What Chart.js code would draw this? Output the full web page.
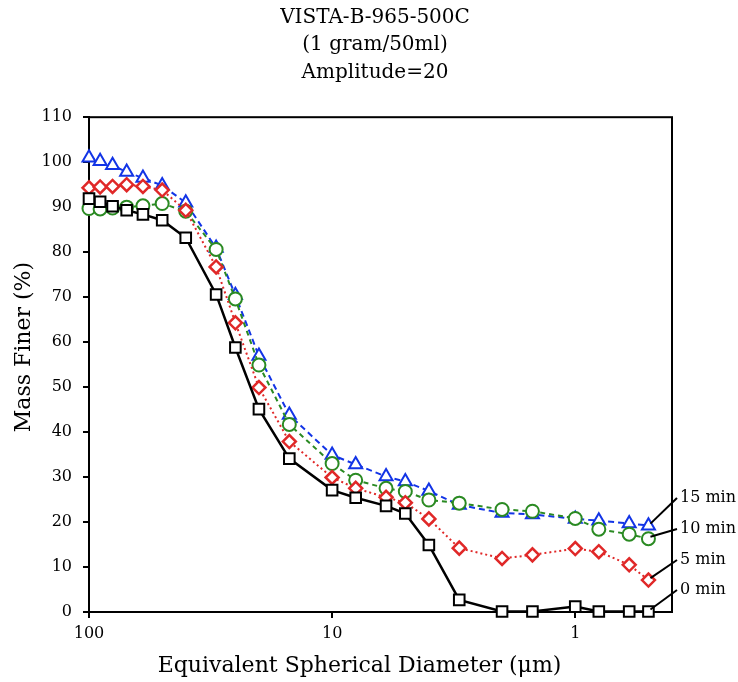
<!DOCTYPE html>
<html>
<head>
<meta charset="utf-8">
<script src="https://cdn.jsdelivr.net/npm/chart.js@4"></script>
<style>
  html, body { margin: 0; padding: 0; background: #fff; }
  canvas { display: block; }
</style>
</head>
<body>
<canvas id="myChart" width="738" height="682"></canvas>
<script>
// diameters (um) shared by all runs
const diameters = [100, 90, 80, 70, 60, 50, 40, 30, 25, 20, 15, 10, 8, 6, 5, 4, 3, 2, 1.5, 1, 0.8, 0.6, 0.5];

// mass finer (%) for each sonication time
const min0  = [91.9, 91.2, 90.2, 89.3, 88.4, 87.1, 83.2, 70.6, 58.8, 45.1, 34.1, 27.1, 25.4, 23.6, 21.9, 14.9, 2.7, 0.1, 0.1, 1.2, 0.1, 0.1, 0.1];
const min5  = [94.3, 94.5, 94.6, 95.0, 94.6, 93.8, 89.3, 76.7, 64.3, 49.9, 37.9, 29.9, 27.5, 25.5, 24.3, 20.7, 14.2, 11.9, 12.7, 14.1, 13.4, 10.5, 7.1];
const min10 = [89.7, 89.6, 89.8, 90.0, 90.3, 90.8, 89.1, 80.6, 69.6, 54.9, 41.7, 33.0, 29.3, 27.5, 26.8, 24.9, 24.2, 22.8, 22.4, 20.8, 18.4, 17.3, 16.3];
const min15 = [101.0, 100.2, 99.3, 97.8, 96.5, 94.8, 91.0, 80.9, 70.4, 56.9, 43.8, 34.9, 32.8, 30.1, 29.0, 26.9, 23.8, 22.0, 21.7, 20.7, 20.3, 19.7, 19.2];

const seriesLabels = ['0 min', '5 min', '10 min', '15 min'];
const xTickValues = [100, 10, 1];
const titleLines = ['VISTA-B-965-500C', '(1 gram/50ml)', 'Amplitude=20'];

const FONT = "'DejaVu Serif', 'Liberation Serif', serif";
const NBSP = '\u00a0';

const toPoints = (ys) => diameters.map((d, i) => ({ x: d, y: ys[i] }));

// box around the plot area
const frame = {
  id: 'frame',
  beforeDatasetsDraw(chart) {
    const { ctx, chartArea: a } = chart;
    ctx.save();
    ctx.strokeStyle = '#000';
    ctx.lineWidth = 2;
    ctx.strokeRect(a.left, a.top, a.right - a.left, a.bottom - a.top);
    ctx.restore();
  }
};

// labels at the right end of each curve, with a leader line
const endLabels = {
  id: 'endLabels',
  afterDraw(chart, args, opts) {
    const { ctx } = chart;
    ctx.save();
    ctx.font = '16px ' + FONT;
    ctx.fillStyle = '#000';
    ctx.strokeStyle = '#000';
    ctx.lineWidth = 2;
    ctx.textBaseline = 'middle';
    chart.data.datasets.forEach((ds, i) => {
      const last = ds.data[ds.data.length - 1];
      const px = chart.scales.x.getPixelForValue(last.x);
      const py = chart.scales.y.getPixelForValue(last.y);
      const ty = opts.y[i];
      ctx.beginPath();
      ctx.moveTo(px + 2, py - 2);
      ctx.lineTo(opts.x - 3, ty);
      ctx.stroke();
      ctx.fillText(ds.label, opts.x, ty);
    });
    ctx.restore();
  }
};

const ctx = document.getElementById('myChart');

const myChart = new Chart(ctx, {
  type: 'scatter',
  data: {
    datasets: [
      {
        label: seriesLabels[0],
        data: toPoints(min0),
        showLine: true,
        clip: false,
        borderColor: '#000',
        borderWidth: 2.5,
        pointStyle: 'rect',
        pointRadius: 7.5,
        pointBorderWidth: 2,
        pointBorderColor: '#000',
        pointBackgroundColor: '#fff',
      },
      {
        label: seriesLabels[1],
        data: toPoints(min5),
        showLine: true,
        clip: false,
        borderColor: '#e02828',
        borderWidth: 2,
        borderDash: [2, 3],
        pointStyle: 'rectRot',
        pointRadius: 6.5,
        pointBorderWidth: 2.5,
        pointBorderColor: '#e02828',
        pointBackgroundColor: '#fff',
      },
      {
        label: seriesLabels[2],
        data: toPoints(min10),
        showLine: true,
        clip: false,
        borderColor: '#2a8a22',
        borderWidth: 2,
        borderDash: [5, 4],
        pointStyle: 'circle',
        pointRadius: 6.5,
        pointBorderWidth: 2,
        pointBorderColor: '#2a8a22',
        pointBackgroundColor: '#fff',
      },
      {
        label: seriesLabels[3],
        data: toPoints(min15),
        showLine: true,
        clip: false,
        borderColor: '#1234e6',
        borderWidth: 2,
        borderDash: [6, 4],
        pointStyle: 'triangle',
        pointRadius: 7.5,
        pointBorderWidth: 2,
        pointBorderColor: '#1234e6',
        pointBackgroundColor: '#fff',
      },
    ],
  },
  plugins: [frame, endLabels],
  options: {
    responsive: false,
    animation: false,
    layout: {
      padding: { left: 12, right: 0, top: 0, bottom: 0 },
    },
    plugins: {
      legend: { display: false },
      tooltip: { enabled: false },
      title: {
        display: true,
        text: titleLines,
        color: '#000',
        font: { family: FONT, size: 20, weight: 'normal', lineHeight: 1.37 },
        padding: { top: 4, bottom: 31 },
      },
      endLabels: {
        x: 680,
        y: [590, 560, 529, 498],
      },
    },
    scales: {
      x: {
        type: 'logarithmic',
        reverse: true,
        min: 0.4,
        max: 100,
        afterBuildTicks: (scale) => {
          scale.ticks = xTickValues.map(v => ({ value: v }));
        },
        afterFit: (scale) => { scale.height = 70; },
        ticks: {
          color: '#000',
          font: { family: FONT, size: 16 },
          padding: 6,
          maxRotation: 0,
          autoSkip: false,
          callback: (v) => String(v),
        },
        grid: {
          drawOnChartArea: false,
          drawTicks: true,
          tickLength: 6,
          color: '#000',
          lineWidth: 2,
        },
        border: { color: '#000', width: 2 },
        title: {
          display: true,
          // trailing spaces nudge the centred title to the left
          text: 'Equivalent Spherical Diameter (μm)' + NBSP.repeat(6),
          color: '#000',
          font: { family: FONT, size: 22 },
          padding: { top: 0, bottom: 3 },
        },
      },
      y: {
        min: 0,
        max: 110,
        afterFit: (scale) => { scale.width = 77; },
        ticks: {
          stepSize: 10,
          color: '#000',
          font: { family: FONT, size: 16 },
          padding: 11,
        },
        grid: {
          drawOnChartArea: false,
          drawTicks: true,
          tickLength: 6,
          color: '#000',
          lineWidth: 2,
        },
        border: { color: '#000', width: 2 },
        title: {
          display: true,
          // leading spaces nudge the rotated title upwards
          text: NBSP.repeat(5) + 'Mass Finer (%)',
          color: '#000',
          font: { family: FONT, size: 22, lineHeight: 1.1 },
          padding: { top: 0, bottom: 0 },
        },
      },
      // empty strip on the right for the curve labels
      yRight: {
        position: 'right',
        afterFit: (scale) => { scale.width = 66; },
        ticks: { display: false },
        grid: { display: false },
        border: { display: false },
      },
    },
  },
});
</script>
</body>
</html>
